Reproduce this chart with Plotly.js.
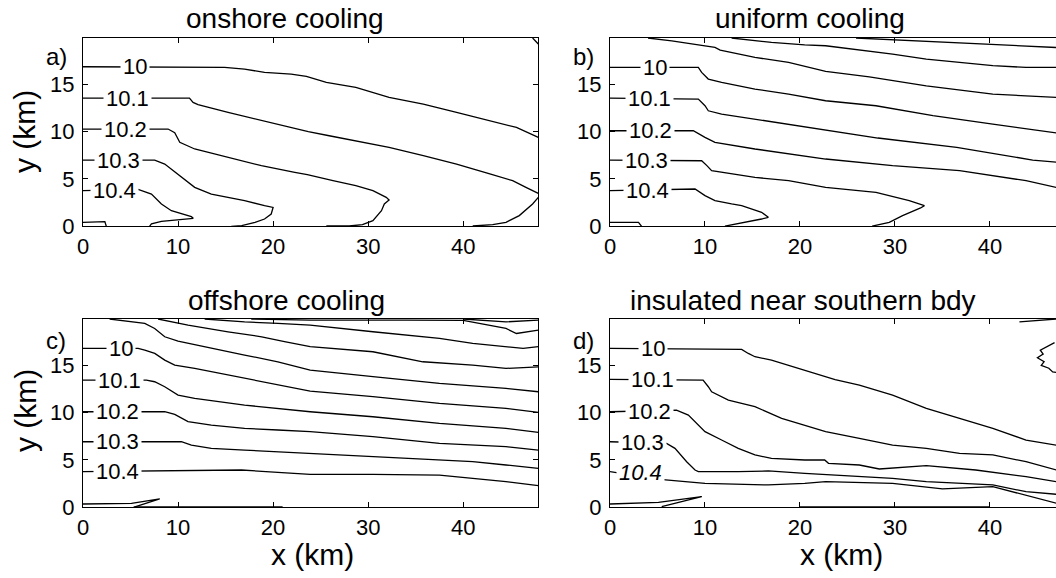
<!DOCTYPE html>
<html>
<head>
<meta charset="utf-8">
<script src="https://cdn.plot.ly/plotly-3.0.1.min.js"></script>
<style>
  html, body { margin: 0; padding: 0; background: #fff; overflow: hidden; }
  #chart { width: 1075px; height: 578px; }
</style>
</head>
<body>
<div id="chart"></div>
<script>
// ---------------- DATA (km) ----------------
const xTicks = [0, 10, 20, 30, 40];
const yTicks = [0, 5, 10, 15];
const levelText = ['10', '10.1', '10.2', '10.3', '10.4'];
const panelTitles = ['onshore cooling', 'uniform cooling', 'offshore cooling', 'insulated near southern bdy'];
const panelLetters = ['a)', 'b)', 'c)', 'd)'];

// a) onshore cooling
const onshore_10   = [[0,16.86],[14.9,16.8],[17.0,16.61],[19.1,16.26],[21.9,16.09],[23.5,15.85],[25.6,15.2],[28.7,14.68],[32.2,13.62],[35.8,12.92],[39.3,12.04],[42.8,11.16],[45.6,10.45],[47.9,9.4]];
const onshore_10_1 = [[0,13.55],[11.2,13.55],[11.58,13.09],[12.1,12.85],[15.26,12.04],[18.77,11.16],[22.3,10.28],[23.7,10.0],[25.9,9.57],[28.7,9.05],[32.2,8.34],[35.8,7.46],[39.3,6.58],[42.8,5.53],[45.2,4.82],[46.6,4.12],[47.9,3.48]];
const onshore_10_2 = [[0,10.28],[8.95,10.28],[9.65,9.9],[10.18,8.87],[11.75,8.17],[15.26,7.29],[18.77,6.41],[22.28,5.7],[23.6,5.45],[26.3,4.82],[28.7,4.29],[30.5,3.77],[31.9,3.06],[32.2,2.78],[31.7,2.36],[31.4,1.65],[31.0,1.13],[30.5,0.6],[29.4,0.18],[28.0,0.03],[25.6,0.03]];
const onshore_10_3 = [[0,7.0],[7.54,7.0],[8.6,6.58],[10.0,5.53],[11.75,4.12],[13.5,3.41],[17.0,2.71],[19.1,2.18],[20.0,2.0],[19.8,1.3],[19.1,0.77],[18.1,0.42],[16.7,0.07],[15.6,0]];
const onshore_10_4 = [[0,3.77],[5.8,3.9],[7.2,3.41],[8.25,2.36],[9.3,1.65],[10.35,1.3],[11.4,1.02],[11.6,0.84],[10.0,0.67],[8.25,0.53],[7.2,0.25],[7.0,0]];
const onshore_10_5 = [[0,0.42],[2.3,0.49],[2.45,0]];
const onshore_corner = [[47.3,19.9],[47.9,19.27]];
const onshore_right  = [[47.9,3.06],[47.3,2.36],[45.9,1.13],[44.5,0.42],[43.1,0.18],[41.0,0.03]];
const onshoreLabelX = [5.44, 4.65, 4.47, 3.77, 3.33];
const onshoreLabelY = [16.86, 13.55, 10.28, 7.0, 3.77];

// b) uniform cooling
const uniform_top2 = [[25.9,19.9],[33.3,19.54],[40.3,19.25],[43.8,19.08],[47.1,18.9],[47.9,18.85]];
const uniform_top1 = [[12.8,19.9],[17.0,19.43],[20.5,19.18],[22.7,19.08],[29.75,18.2],[33.3,17.67],[36.8,17.32],[40.3,16.97],[43.8,16.79],[47.1,16.79],[47.9,16.7]];
const uniform_top0 = [[4.0,19.9],[6.5,19.6],[11.05,18.9],[11.6,18.62],[15.26,17.85],[18.8,17.32],[22.7,16.37],[27.3,15.8],[33.3,14.85],[40.3,13.97],[47.1,13.62],[47.9,13.55]];
const uniform_10   = [[0,16.79],[9.3,16.79],[9.65,16.26],[10.35,15.56],[11.75,15.2],[15.26,14.5],[18.8,13.97],[22.7,13.27],[28.0,12.74],[34.0,11.69],[40.3,10.8],[47.1,9.93],[47.9,9.75]];
const uniform_10_1 = [[0,13.55],[9.3,13.45],[10.0,12.74],[10.35,12.21],[11.75,11.86],[15.26,11.33],[18.8,10.8],[22.7,10.17],[28.2,9.33],[36.5,8.34],[44.5,7.0],[47.1,6.76],[47.9,6.6]];
const uniform_10_2 = [[0,10.1],[8.77,10.1],[10.0,9.4],[11.05,8.87],[15.26,8.17],[18.8,7.64],[22.7,7.11],[29.75,6.41],[36.8,5.88],[43.8,4.82],[47.1,4.05],[47.9,3.9]];
const uniform_10_3 = [[0,7.0],[9.65,6.93],[10.2,6.41],[10.7,5.88],[15.26,5.17],[18.8,4.82],[22.7,4.12],[28.0,3.59],[31.5,2.71],[33.1,2.18],[32.7,1.94],[30.8,1.13],[29.4,0.42],[28.4,0.18],[27.6,0.03]];
const uniform_10_4 = [[0,3.77],[8.95,3.94],[10.0,3.24],[11.05,2.71],[12.8,2.36],[13.86,2.18],[15.96,1.48],[16.67,0.95],[15.96,0.77],[14.2,0.42],[12.8,0.18],[12.1,0.03]];
const uniform_10_5 = [[0,0.42],[3.0,0.42],[3.33,0]];
const uniformLabelX = [4.74, 4.12, 4.3, 3.86, 3.95];
const uniformLabelY = [16.79, 13.55, 10.1, 7.0, 3.77];

// c) offshore cooling
const offshore_9_5 = [[40.0,19.9],[44.5,19.6],[47.9,19.78]];
const offshore_9_6 = [[17.7,19.9],[23.9,19.78],[34.0,19.78],[40.0,19.75],[44.5,18.9],[45.6,18.37],[47.9,18.73]];
const offshore_9_7 = [[12.8,19.9],[17.0,19.6],[20.5,19.43],[23.9,19.25],[30.5,18.55],[37.5,17.85],[41.0,17.32],[44.5,16.97],[46.3,16.79],[47.9,16.97]];
const offshore_9_8 = [[7.9,19.9],[11.05,19.25],[15.26,18.55],[18.8,18.02],[21.2,17.5],[23.9,16.97],[30.5,16.44],[35.75,15.38],[41.0,15.03],[44.5,14.68],[47.9,14.85]];
const offshore_9_9 = [[2.8,19.9],[6.5,19.43],[7.54,18.9],[8.6,18.02],[10.0,17.56],[13.5,16.79],[17.0,16.09],[20.5,15.38],[23.9,14.5],[30.5,13.8],[37.5,13.09],[44.5,12.57],[47.9,12.21]];
const offshore_10   = [[0,16.79],[5.8,16.79],[6.5,16.61],[7.55,16.26],[8.6,15.56],[9.65,15.03],[11.75,14.68],[17.0,13.64],[20.5,13.0],[23.9,12.28],[30.5,11.69],[37.5,10.98],[44.5,10.45],[47.9,10.03]];
const offshore_10_1 = [[0,13.45],[6.67,13.45],[7.54,13.27],[8.6,12.74],[10.0,11.86],[11.75,11.5],[17.0,10.8],[20.5,10.45],[23.9,10.1],[30.5,9.57],[37.5,8.87],[44.5,8.34],[47.9,7.92]];
const offshore_10_2 = [[0,10.1],[8.6,10.1],[9.65,9.82],[11.05,9.05],[13.5,8.69],[17.0,8.34],[20.5,8.17],[23.9,7.99],[30.5,7.46],[37.5,6.76],[44.5,6.41],[47.9,6.05]];
const offshore_10_3 = [[0,6.93],[10.35,6.93],[11.4,6.58],[13.5,6.23],[17.0,6.05],[20.5,5.88],[23.9,5.7],[30.5,5.35],[37.5,5.0],[41.0,4.82],[44.5,4.47],[47.9,4.12]];
const offshore_10_4 = [[0,3.77],[16.67,3.94],[20.5,3.7],[23.9,3.48],[30.5,3.48],[37.5,3.41],[41.0,3.06],[44.5,2.71],[47.9,2.29]];
const offshore_10_5 = [[0,0.35],[5.1,0.42],[8.07,0.88],[5.4,0.07],[5.3,0]];
const offshore_floor = [[5.4,0.05],[21.0,0.05]];
const offshoreLabelX = [4.04, 3.86, 3.68, 3.68, 3.68];
const offshoreLabelY = [16.79, 13.45, 10.1, 6.93, 3.77];

// d) insulated near southern bdy
const insulated_10   = [[0,16.79],[13.86,16.68],[14.56,16.26],[15.26,15.91],[17.0,15.56],[18.77,15.03],[20.5,14.5],[22.28,13.97],[23.7,13.5],[26.25,12.92],[29.75,11.86],[33.3,10.45],[36.8,9.4],[40.3,8.34],[43.8,7.11],[47.0,6.58],[47.9,6.4]];
const insulated_10_1 = [[0,13.52],[9.8,13.45],[10.35,12.74],[10.7,12.21],[12.46,11.33],[15.26,10.63],[18.07,9.4],[20.5,8.69],[22.7,7.99],[26.25,7.29],[29.75,6.58],[33.3,6.23],[36.8,5.7],[40.3,5.53],[43.8,4.82],[47.0,3.94],[47.9,3.7]];
const insulated_10_2 = [[0,10.1],[7.0,10.28],[8.25,9.75],[9.3,8.69],[10.0,7.99],[11.75,7.11],[13.5,6.23],[15.26,5.53],[17.0,5.17],[20.5,5.0],[22.6,5.0],[23.0,4.65],[26.25,4.47],[28.35,4.05],[33.3,4.4],[38.5,3.94],[43.8,3.24],[47.0,2.71],[47.9,2.6]];
const insulated_10_3 = [[0,6.93],[5.96,6.76],[6.84,6.23],[8.07,4.82],[8.95,3.94],[9.3,3.77],[13.5,3.77],[16.67,3.84],[20.5,3.59],[22.7,3.48],[29.75,3.06],[33.3,2.71],[36.8,2.53],[40.3,2.36],[43.8,1.65],[47.0,1.4],[47.9,1.3]];
const insulated_10_4 = [[0,3.77],[5.26,2.96],[10.0,2.53],[16.67,2.36],[20.5,2.53],[22.7,2.71],[29.75,2.53],[35.0,1.94],[40.3,2.18],[43.8,1.3],[47.0,0.42],[47.9,0.2]];
const insulated_10_5 = [[0,0.35],[5.1,0.53],[9.65,1.13],[5.44,0.07]];
const insulated_floor = [[20.0,0.05],[40.0,0.05]];
const insulated_top  = [[43.1,19.6],[47.0,19.9]];
const insulated_blob = [[46.8,17.4],[46.0,17.0],[45.3,16.6],[45.6,16.2],[45.0,15.8],[45.7,15.4],[45.4,15.0],[46.2,14.7],[46.6,14.3],[47.5,14.2],[47.9,14.4]];
const insulatedLabelX = [4.56, 4.47, 4.12, 3.42, 3.16];
const insulatedLabelY = [16.79, 13.52, 10.1, 6.83, 3.7];

// ---------------- LAYOUT GEOMETRY ----------------
const W = 1075, H = 578;
const fx = p => p / W;
const fy = p => 1 - p / H;
const FONT = 'Liberation Sans, Arial, Helvetica, sans-serif';

const panels = [
  { ax: '',  lines: [onshore_10, onshore_10_1, onshore_10_2, onshore_10_3, onshore_10_4, onshore_10_5, onshore_corner, onshore_right], lx: onshoreLabelX, ly: onshoreLabelY, italicLast: false },
  { ax: '2', lines: [uniform_top2, uniform_top1, uniform_top0, uniform_10, uniform_10_1, uniform_10_2, uniform_10_3, uniform_10_4, uniform_10_5], lx: uniformLabelX, ly: uniformLabelY, italicLast: false },
  { ax: '3', lines: [offshore_9_5, offshore_9_6, offshore_9_7, offshore_9_8, offshore_9_9, offshore_10, offshore_10_1, offshore_10_2, offshore_10_3, offshore_10_4, offshore_10_5, offshore_floor], lx: offshoreLabelX, ly: offshoreLabelY, italicLast: false },
  { ax: '4', lines: [insulated_10, insulated_10_1, insulated_10_2, insulated_10_3, insulated_10_4, insulated_10_5, insulated_floor, insulated_top, insulated_blob], lx: insulatedLabelX, ly: insulatedLabelY, italicLast: true }
];

const traces = [];
const annotations = [];
panels.forEach(p => {
  p.lines.forEach(pts => {
    traces.push({
      type: 'scatter', mode: 'lines',
      x: pts.map(q => q[0]), y: pts.map(q => q[1]),
      xaxis: 'x' + p.ax, yaxis: 'y' + p.ax,
      line: { color: '#000', width: 1.3 },
      hoverinfo: 'skip', showlegend: false
    });
  });
  levelText.forEach((t, i) => {
    const italic = p.italicLast && i === levelText.length - 1;
    annotations.push({
      xref: 'x' + p.ax, yref: 'y' + p.ax,
      x: p.lx[i], y: p.ly[i],
      text: italic ? '<i>' + t + '</i>' : t,
      showarrow: false, bgcolor: '#fff', borderpad: 2,
      font: { family: FONT, size: 22, color: '#000' },
      xanchor: 'center', yanchor: 'middle'
    });
  });
});

// titles, letters, axis titles (paper coords)
const titlePos = [[285, 19], [810, 19], [286, 300], [803, 300]];
const letterPos = [[56, 57], [583, 57], [56, 340], [583, 340]];
panelTitles.forEach((t, i) => annotations.push({
  xref: 'paper', yref: 'paper', x: fx(titlePos[i][0]), y: fy(titlePos[i][1]),
  text: t, showarrow: false, xanchor: 'center', yanchor: 'middle',
  font: { family: FONT, size: 28, color: '#000' }
}));
panelLetters.forEach((t, i) => annotations.push({
  xref: 'paper', yref: 'paper', x: fx(letterPos[i][0]), y: fy(letterPos[i][1]),
  text: t, showarrow: false, xanchor: 'center', yanchor: 'middle',
  font: { family: FONT, size: 24, color: '#000' }
}));
[[25, 132], [25, 411]].forEach(pos => annotations.push({
  xref: 'paper', yref: 'paper', x: fx(pos[0]), y: fy(pos[1]),
  text: 'y (km)', textangle: -90, showarrow: false, xanchor: 'center', yanchor: 'middle',
  font: { family: FONT, size: 30, color: '#000' }
}));
[[312, 554], [841, 554]].forEach(pos => annotations.push({
  xref: 'paper', yref: 'paper', x: fx(pos[0]), y: fy(pos[1]),
  text: 'x (km)', showarrow: false, xanchor: 'center', yanchor: 'middle',
  font: { family: FONT, size: 30, color: '#000' }
}));

function xax(domain, anchor) {
  return {
    domain: domain, anchor: anchor, range: [0, 47.9],
    tickmode: 'array', tickvals: xTicks, ticktext: xTicks.map(String),
    ticks: 'inside', ticklen: 5, tickwidth: 1, tickcolor: '#000',
    showline: true, linecolor: '#000', linewidth: 1, mirror: 'ticks',
    showgrid: false, zeroline: false, fixedrange: true,
    ticklabelstandoff: 0,
    tickfont: { family: FONT, size: 22, color: '#000' }
  };
}
function yax(domain, anchor) {
  return {
    domain: domain, anchor: anchor, range: [0, 19.9],
    tickmode: 'array', tickvals: yTicks, ticktext: yTicks.map(String),
    ticks: 'inside', ticklen: 5, tickwidth: 1, tickcolor: '#000',
    showline: true, linecolor: '#000', linewidth: 1, mirror: 'ticks',
    showgrid: false, zeroline: false, fixedrange: true,
    ticklabelstandoff: 3,
    tickfont: { family: FONT, size: 22, color: '#000' }
  };
}

const xL = [fx(83), fx(538.3)], xR = [fx(610), fx(1065)];
const yT = [fy(226.3), fy(38)], yB = [fy(507.3), fy(319)];

const layout = {
  width: W, height: H,
  margin: { l: 0, r: 0, t: 0, b: 0, pad: 0 },
  paper_bgcolor: '#fff', plot_bgcolor: '#fff',
  showlegend: false,
  xaxis: xax(xL, 'y'),   yaxis: yax(yT, 'x'),
  xaxis2: xax(xR, 'y2'), yaxis2: yax(yT, 'x2'),
  xaxis3: xax(xL, 'y3'), yaxis3: yax(yB, 'x3'),
  xaxis4: xax(xR, 'y4'), yaxis4: yax(yB, 'x4'),
  annotations: annotations
};

Plotly.newPlot('chart', traces, layout, { displayModeBar: false, staticPlot: true });
</script>
</body>
</html>
